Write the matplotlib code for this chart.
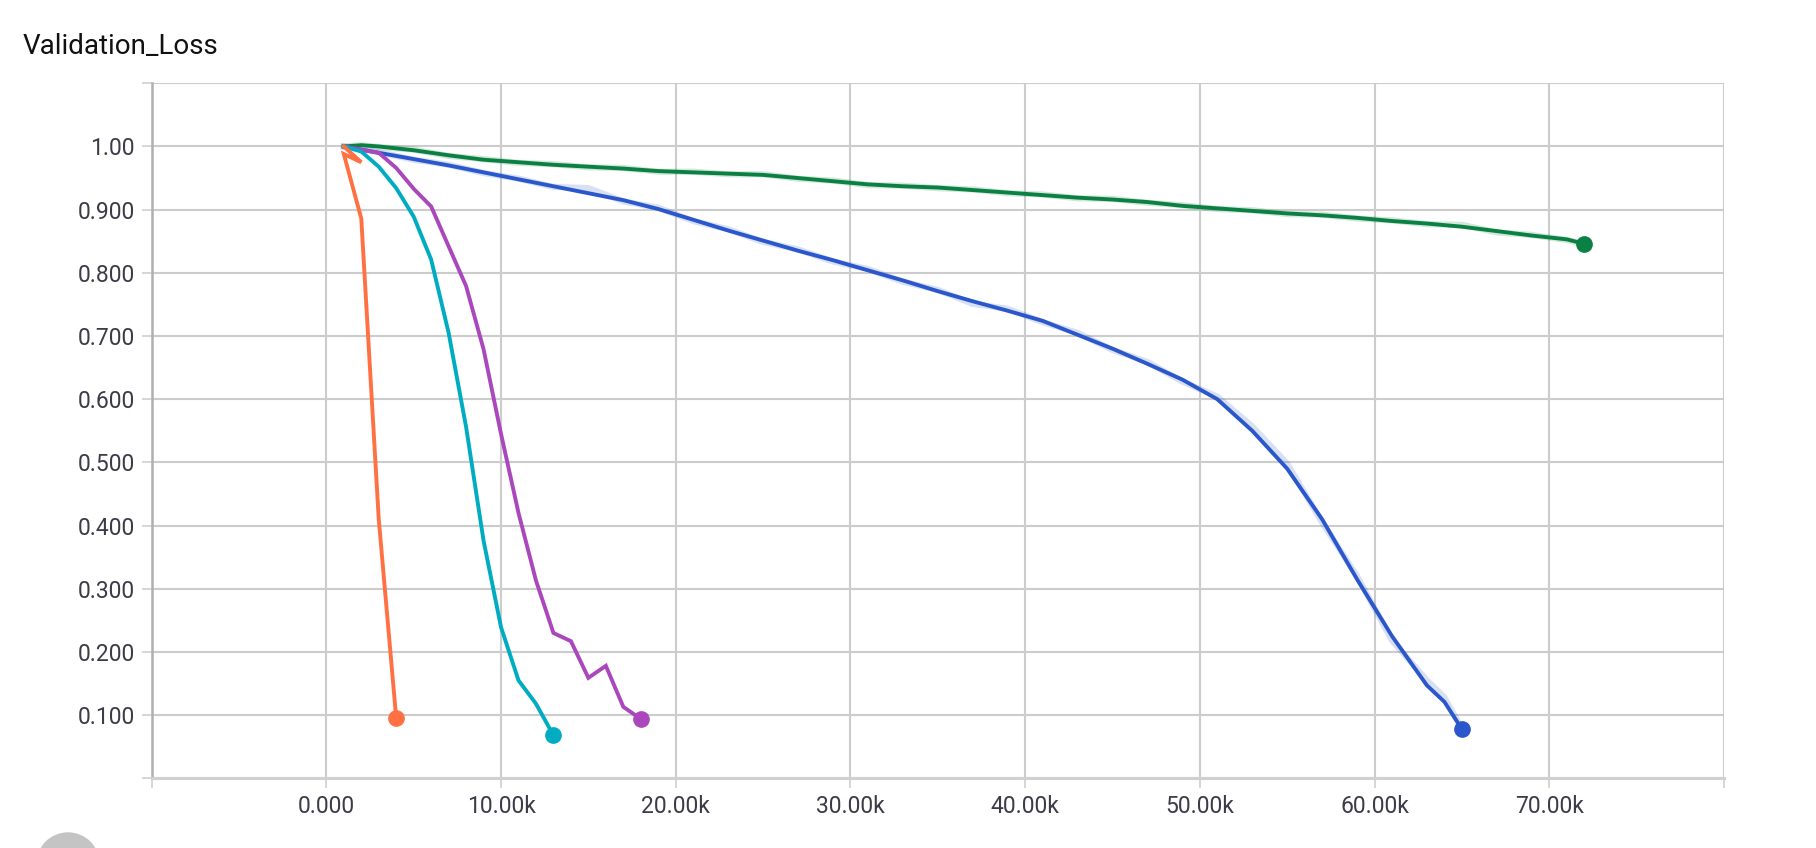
import matplotlib
matplotlib.use("Agg")
import matplotlib.pyplot as plt
import matplotlib.patches as mpatches
from matplotlib.ticker import FixedLocator

# steps / loss values
orange_steps = [1000, 2000, 1000, 2000, 3000, 4000]
orange_loss = [1.000, 0.975, 0.988, 0.886, 0.410, 0.095]

teal_steps = [1000, 2000, 3000, 4000, 5000, 6000, 7000, 8000, 9000, 10000, 11000, 12000, 13000]
teal_loss = [1.000, 0.992, 0.968, 0.934, 0.889, 0.821, 0.705, 0.556, 0.376, 0.239, 0.155, 0.118, 0.068]

purple_steps = [1000, 2000, 3000, 4000, 5000, 6000, 7000, 8000, 9000, 10000, 11000, 12000,
                13000, 14000, 15000, 16000, 17000, 18000]
purple_loss = [1.000, 0.995, 0.990, 0.966, 0.933, 0.905, 0.842, 0.779, 0.679, 0.545, 0.420, 0.313,
               0.230, 0.217, 0.159, 0.178, 0.113, 0.094]

blue_steps = [1000, 3000, 5000, 7000, 9000, 11000, 13000, 15000, 17000, 19000, 21000, 23000,
              25000, 27000, 29000, 31000, 33000, 35000, 37000, 39000, 41000, 43000, 45000,
              47000, 49000, 51000, 53000, 55000, 57000, 59000, 61000, 63000, 64000, 65000]
blue_loss = [1.000, 0.990, 0.980, 0.970, 0.959, 0.948, 0.937, 0.926, 0.915, 0.901, 0.884, 0.867,
             0.851, 0.835, 0.820, 0.804, 0.788, 0.771, 0.755, 0.740, 0.724, 0.702, 0.680,
             0.656, 0.631, 0.600, 0.550, 0.490, 0.410, 0.315, 0.225, 0.147, 0.121, 0.078]
blue_raw = [1.000, 0.991, 0.979, 0.971, 0.958, 0.949, 0.936, 0.934, 0.913, 0.903, 0.882, 0.869,
            0.849, 0.837, 0.818, 0.806, 0.786, 0.773, 0.751, 0.743, 0.722, 0.705, 0.678,
            0.659, 0.628, 0.604, 0.557, 0.498, 0.405, 0.320, 0.218, 0.155, 0.128, 0.078]

green_steps = [1000, 2000, 3000, 5000, 7000, 9000, 11000, 13000, 15000, 17000, 19000, 21000,
               23000, 25000, 27000, 29000, 31000, 33000, 35000, 37000, 39000, 41000, 43000,
               45000, 47000, 49000, 51000, 53000, 55000, 57000, 59000, 61000, 63000, 65000,
               67000, 69000, 71000, 72000]
green_loss = [1.000, 1.002, 1.000, 0.994, 0.986, 0.979, 0.975, 0.971, 0.968, 0.965, 0.961, 0.959,
              0.957, 0.955, 0.950, 0.945, 0.940, 0.937, 0.935, 0.931, 0.927, 0.923, 0.919,
              0.916, 0.912, 0.906, 0.902, 0.898, 0.894, 0.891, 0.887, 0.882, 0.878, 0.873,
              0.866, 0.859, 0.853, 0.846]
green_raw = [1.000, 1.002, 0.999, 0.995, 0.985, 0.980, 0.974, 0.972, 0.967, 0.966, 0.960, 0.960,
             0.956, 0.956, 0.949, 0.946, 0.939, 0.938, 0.934, 0.932, 0.926, 0.924, 0.918,
             0.917, 0.911, 0.907, 0.901, 0.899, 0.893, 0.892, 0.886, 0.883, 0.877, 0.876,
             0.864, 0.860, 0.852, 0.846]

x_ticks = [-10000, 0, 10000, 20000, 30000, 40000, 50000, 60000, 70000, 80000]
x_labels = ["", "0.000", "10.00k", "20.00k", "30.00k", "40.00k", "50.00k", "60.00k", "70.00k", ""]
y_ticks = [0.0, 0.1, 0.2, 0.3, 0.4, 0.5, 0.6, 0.7, 0.8, 0.9, 1.0, 1.1]
y_labels = ["", "0.100", "0.200", "0.300", "0.400", "0.500", "0.600", "0.700", "0.800", "0.900", "1.00", ""]

plt.rcParams['font.family'] = ['Roboto', 'DejaVu Sans']

fig = plt.figure(figsize=(18.16, 8.48), dpi=100)
ax = fig.add_axes([0.0835, 0.0822, 0.8658, 0.8196])
ax.set_xlim(-10000, 80000)
ax.set_ylim(0, 1.1)

grid_col = "#cccccc"
ax.xaxis.set_major_locator(FixedLocator(x_ticks))
ax.yaxis.set_major_locator(FixedLocator(y_ticks))
ax.set_xticklabels(x_labels)
ax.set_yticklabels(y_labels)
ax.grid(True, color=grid_col, linewidth=1.5, zorder=0)
ax.set_axisbelow(True)
ax.tick_params(axis='both', length=7.2, width=1.1, color=grid_col, labelsize=16.5,
               labelcolor="#3c3c48", pad=5)

for s in ['top', 'right']:
	ax.spines[s].set_visible(False)
ax.spines['left'].set_color("#b0b0b0")
ax.spines['left'].set_linewidth(1.8)
ax.spines['bottom'].set_color("#d0d0d0")
ax.spines['bottom'].set_linewidth(2.2)

# faint raw curves behind the smoothed ones
ax.plot(blue_steps, blue_raw, color="#2b57cc", alpha=0.18, linewidth=4.5, zorder=2)
ax.plot(green_steps, green_raw, color="#0b8043", alpha=0.18, linewidth=4.5, zorder=2)

series = [
	(green_steps, green_loss, "#0b8043"),
	(blue_steps, blue_loss, "#2b57cc"),
	(purple_steps, purple_loss, "#ab47bc"),
	(teal_steps, teal_loss, "#00acc1"),
	(orange_steps, orange_loss, "#ff7043"),
]
for steps, loss, col in series:
	ax.plot(steps, loss, color=col, linewidth=2.8, solid_joinstyle='miter', zorder=3)
	ax.plot(steps[-1], loss[-1], 'o', color=col, markersize=11, zorder=4)

fig.text(0.0127, 0.945, "Validation_Loss", fontsize=20, color="#111111", va='center', ha='left')

# grey round button peeking in at the bottom left
fig.patches.append(mpatches.Ellipse((68 / 1816, (848 - 864) / 848), 62 / 1816, 62 / 848,
                                    transform=fig.transFigure, color="#c4c4c4", zorder=0))

fig.savefig("out.png", dpi=100)
